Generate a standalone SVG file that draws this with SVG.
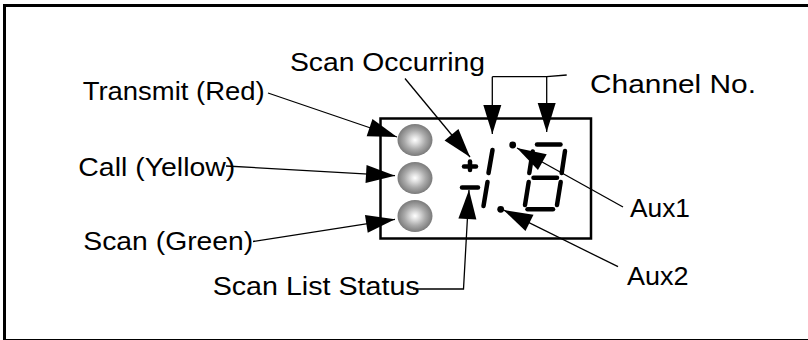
<svg xmlns="http://www.w3.org/2000/svg" width="808" height="340" viewBox="0 0 808 340">
<defs>
<style>
.lbl{font-family:"Liberation Sans",Arial,sans-serif;font-size:26px;fill:#000}
.con{fill:none;stroke:#000;stroke-width:1.3}
.seg{fill:none;stroke:#000;stroke-width:4.5;stroke-linecap:round}
.led{fill:url(#ledg)}
</style>
<radialGradient id="ledg" cx="50%" cy="50%" r="50%">
<stop offset="0" stop-color="#ffffff"/>
<stop offset="0.25" stop-color="#dedede"/>
<stop offset="0.6" stop-color="#aaaaaa"/>
<stop offset="1" stop-color="#7a7a7a"/>
</radialGradient>
<marker id="ah" markerUnits="userSpaceOnUse" viewBox="0 0 30 20" markerWidth="30" markerHeight="20" refX="29" refY="10" orient="auto" overflow="visible">
<path d="M0,1 L29,10 L0,19 z" fill="#000"/>
</marker>
</defs>
<rect x="4.5" y="5.5" width="806" height="335" fill="#fff" stroke="#000" stroke-width="3"/>
<g id="display">
<rect x="380.5" y="118.5" width="210.5" height="120" fill="#fff" stroke="#000" stroke-width="2.5"/>
<g id="led-transmit"><ellipse class="led" cx="415" cy="140" rx="17.5" ry="16"/></g>
<g id="led-call"><ellipse class="led" cx="415" cy="178" rx="17.5" ry="16"/></g>
<g id="led-scan"><ellipse class="led" cx="415" cy="216" rx="17.5" ry="16"/></g>
<g id="scan-list-sign">
<line class="seg" x1="464" y1="166.5" x2="476" y2="166.5"/>
<line class="seg" x1="470" y1="161.5" x2="470" y2="170"/>
<line class="seg" x1="462" y1="187.5" x2="478" y2="187.5"/>
</g>
<g id="digit1">
<line class="seg" x1="492.5" y1="150" x2="488.5" y2="173"/>
<line class="seg" x1="487.5" y1="182" x2="483.5" y2="206"/>
</g>
<g id="digit8">
<line class="seg" x1="537" y1="144.5" x2="560.5" y2="144.5"/>
<line class="seg" x1="532.7" y1="151.5" x2="529.3" y2="173"/>
<line class="seg" x1="565" y1="151" x2="561.7" y2="173"/>
<line class="seg" x1="533.5" y1="177.7" x2="557" y2="177.7"/>
<line class="seg" x1="528.7" y1="182" x2="525" y2="205"/>
<line class="seg" x1="560.7" y1="182" x2="557" y2="205"/>
<line class="seg" x1="527.5" y1="209.3" x2="553" y2="209.3"/>
</g>
<g id="aux1-dot"><circle cx="512.7" cy="145" r="3.4"/></g>
<g id="aux2-dot"><circle cx="500.7" cy="209.3" r="3.4"/></g>
</g>
<g id="connectors">
<line class="con" x1="268" y1="93" x2="397" y2="137" marker-end="url(#ah)"/>
<line class="con" x1="226" y1="166" x2="395" y2="175.7" marker-end="url(#ah)"/>
<line class="con" x1="253" y1="241.5" x2="395" y2="219.3" marker-end="url(#ah)"/>
<line class="con" x1="405" y1="78.5" x2="470" y2="157" marker-end="url(#ah)"/>
<polyline class="con" points="413,289 463.5,289 469,190" marker-end="url(#ah)"/>
<polyline class="con" points="566.7,75 546.7,76.7 492.3,76.7"/>
<line class="con" x1="492.3" y1="76.7" x2="492.3" y2="134" marker-end="url(#ah)"/>
<line class="con" x1="546.7" y1="76.7" x2="546.7" y2="132" marker-end="url(#ah)"/>
<line class="con" x1="623" y1="207" x2="517" y2="148" marker-end="url(#ah)"/>
<line class="con" x1="618" y1="266.7" x2="503.5" y2="210" marker-end="url(#ah)"/>
</g>
<g id="labels">
<text class="lbl" x="82.7" y="100" textLength="182" lengthAdjust="spacingAndGlyphs">Transmit (Red)</text>
<text class="lbl" x="78.3" y="175.5" textLength="157" lengthAdjust="spacingAndGlyphs">Call (Yellow)</text>
<text class="lbl" x="83.3" y="250" textLength="170" lengthAdjust="spacingAndGlyphs">Scan (Green)</text>
<text class="lbl" x="290" y="71" textLength="195" lengthAdjust="spacingAndGlyphs">Scan Occurring</text>
<text class="lbl" x="590" y="92.7" textLength="166" lengthAdjust="spacingAndGlyphs">Channel No.</text>
<text class="lbl" x="212.7" y="295" textLength="207" lengthAdjust="spacingAndGlyphs">Scan List Status</text>
<text class="lbl" x="630" y="216.7" textLength="60" lengthAdjust="spacingAndGlyphs">Aux1</text>
<text class="lbl" x="627" y="285" textLength="61.5" lengthAdjust="spacingAndGlyphs">Aux2</text>
</g>
</svg>
